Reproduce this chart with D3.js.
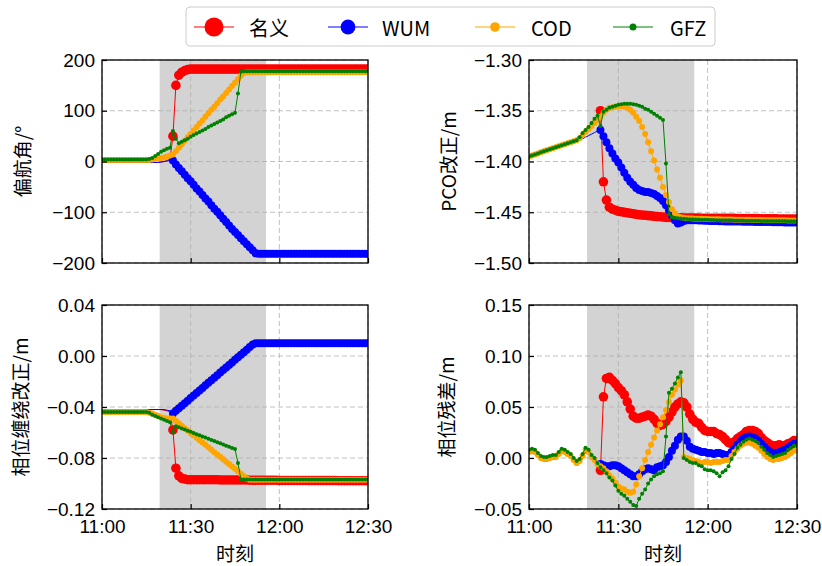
<!DOCTYPE html>
<html lang="zh">
<head>
<meta charset="UTF-8">
<title>偏航角 / PCO / 相位缠绕 / 相位残差</title>
<script src="https://d3js.org/d3.v7.min.js"></script>
<style>
  body { margin: 0; background: #fff; }
  svg { font-family: "Noto Sans CJK SC", "Noto Sans", sans-serif; }
  .grid line { stroke: #b0b0b0; stroke-width: 0.8; stroke-dasharray: 5,3; }
  .axis text { font-size: 19px; fill: #000; }
  .axis line { stroke: #000; stroke-width: 1.2; }
  .frame { fill: none; stroke: #000; stroke-width: 1.3; }
  .label { font-size: 19px; fill: #000; }
</style>
</head>
<body>
<svg id="chart" width="822" height="566"></svg>
<script>
// epochs: one per minute from 11:00 to 12:30
const minutes = d3.range(0, 91);
const timeTicks = [0, 30, 60, 90];
const timeLabels = ["11:00", "11:30", "12:00", "12:30"];
const shadeSpan = [19.5, 55.5];

const seriesNames = ["名义", "WUM", "COD", "GFZ"];

// 偏航角 (deg)
const yawTicks = [-200, -100, 0, 100, 200];
const yawRed = [
  -2,-2,-2,-2,-2,-2,-2,-2,-2,-2,
  -2,-2,-2,-2,-2,-2,-2,-2,-2,-2,
  -1,0,2,5,50,150,170,176,179,181,
  182,182,182,182,182,182,182,182,182,182,
  182,182,182,182,182,182,182,182,182,182,
  182,182,182,182,182,182,182,182,182,182,
  182,182,182,182,182,182,182,182,182,182,
  182,182,182,182,182,182,182,182,182,182,
  182,182,182,182,182,182,182,182,182,182,
  182];
const yawBlue = [
  -2,-2,-2,-2,-2,-2,-2,-2,-2,-2,
  -2,-2,-2,-2,-2,-2,-2,-2,-2,-2,
  -1,0,1,2,2,-6,-13,-19,-26,-33,
  -39,-46,-53,-59,-66,-73,-79,-86,-93,-99,
  -106,-113,-119,-126,-133,-139,-145,-151,-157,-163,
  -169,-175,-181,-182,-182,-182,-182,-182,-182,-182,
  -182,-182,-182,-182,-182,-182,-182,-182,-182,-182,
  -182,-182,-182,-182,-182,-182,-182,-182,-182,-182,
  -182,-182,-182,-182,-182,-182,-182,-182,-182,-182,
  -182];
const yawOrange = [
  3,3,3,3,3,3,3,3,3,3,
  3,3,3,3,3,3,3,4,5,6,
  7,8,10,12,14,20,27,34,41,48,
  54,61,68,75,81,88,95,102,108,115,
  122,128,135,142,149,155,162,169,175,176,
  176,176,176,176,176,176,176,176,176,176,
  176,176,176,176,176,176,176,176,176,176,
  176,176,176,176,176,176,176,176,176,176,
  176,176,176,176,176,176,176,176,176,176,
  176];
const yawGreen = [
  4,4,4,4,4,4,4,4,4,4,
  4,4,4,4,4,4,5,7,11,15,
  19,22,25,27,60,45,36,39,42,45,
  49,52,55,58,61,64,68,71,74,77,
  80,83,87,90,93,96,134,177,178,178,
  178,178,178,178,178,178,178,178,178,178,
  178,178,178,178,178,178,178,178,178,178,
  178,178,178,178,178,178,178,178,178,178,
  178,178,178,178,178,178,178,178,178,178,
  178];

// PCO改正 (m)
const pcoTicks = [-1.50, -1.45, -1.40, -1.35, -1.30];
const pcoRed = [
  -1.3935,-1.3925,-1.3915,-1.3905,-1.3895,-1.3885,-1.3875,-1.3865,-1.3855,-1.3845,
  -1.3835,-1.3825,-1.3815,-1.3805,-1.3795,-1.3785,-1.3775,-1.3755,-1.3735,-1.3715,
  -1.369,-1.366,-1.362,-1.357,-1.350,-1.420,-1.438,-1.445,-1.447,-1.448,
  -1.449,-1.4495,-1.450,-1.4505,-1.451,-1.4515,-1.452,-1.4525,-1.4527,-1.453,
  -1.4533,-1.4536,-1.454,-1.4542,-1.4544,-1.4547,-1.455,-1.4551,-1.4552,-1.4553,
  -1.4554,-1.4555,-1.4556,-1.4556,-1.4557,-1.4557,-1.4558,-1.4558,-1.4559,-1.4559,
  -1.456,-1.456,-1.456,-1.456,-1.456,-1.456,-1.456,-1.456,-1.456,-1.456,
  -1.4561,-1.4561,-1.4562,-1.4562,-1.4562,-1.4563,-1.4563,-1.4563,-1.4564,-1.4564,
  -1.4564,-1.4565,-1.4565,-1.4565,-1.4566,-1.4566,-1.4566,-1.4567,-1.4567,-1.4567,
  -1.4568];
const pcoBlue = [
  -1.3965,-1.3955,-1.3945,-1.3935,-1.3925,-1.3915,-1.3905,-1.3895,-1.3885,-1.3875,
  -1.3865,-1.3855,-1.3845,-1.3835,-1.3825,-1.3815,-1.3805,-1.379,-1.3775,-1.376,
  -1.3745,-1.373,-1.3715,-1.370,-1.369,-1.375,-1.381,-1.387,-1.392,-1.397,
  -1.401,-1.406,-1.411,-1.416,-1.420,-1.423,-1.426,-1.428,-1.429,-1.430,
  -1.430,-1.431,-1.432,-1.434,-1.436,-1.439,-1.443,-1.448,-1.453,-1.458,
  -1.461,-1.460,-1.4585,-1.458,-1.458,-1.458,-1.458,-1.4581,-1.4582,-1.4583,
  -1.4584,-1.4585,-1.4586,-1.4587,-1.4588,-1.4589,-1.459,-1.459,-1.4591,-1.4591,
  -1.4592,-1.4592,-1.4593,-1.4593,-1.4594,-1.4594,-1.4595,-1.4595,-1.4596,-1.4596,
  -1.4597,-1.4597,-1.4598,-1.4598,-1.4599,-1.4599,-1.460,-1.460,-1.460,-1.4601,
  -1.4601];
const pcoOrange = [
  -1.395,-1.394,-1.393,-1.392,-1.391,-1.390,-1.389,-1.388,-1.387,-1.386,
  -1.385,-1.384,-1.383,-1.382,-1.381,-1.380,-1.379,-1.377,-1.374,-1.371,
  -1.368,-1.365,-1.362,-1.359,-1.356,-1.352,-1.349,-1.347,-1.3465,-1.346,
  -1.3455,-1.3455,-1.346,-1.347,-1.349,-1.352,-1.356,-1.360,-1.366,-1.373,
  -1.381,-1.390,-1.399,-1.408,-1.416,-1.425,-1.433,-1.440,-1.447,-1.451,
  -1.454,-1.455,-1.4555,-1.456,-1.456,-1.4562,-1.4563,-1.4564,-1.4565,-1.4566,
  -1.4567,-1.4568,-1.4569,-1.457,-1.457,-1.4571,-1.4571,-1.4572,-1.4572,-1.4573,
  -1.4573,-1.4574,-1.4574,-1.4575,-1.4575,-1.4576,-1.4576,-1.4577,-1.4577,-1.4578,
  -1.4578,-1.4578,-1.4579,-1.4579,-1.458,-1.458,-1.458,-1.4581,-1.4581,-1.4581,
  -1.4582];
const pcoGreen = [
  -1.395,-1.394,-1.393,-1.392,-1.391,-1.390,-1.389,-1.388,-1.387,-1.386,
  -1.385,-1.384,-1.383,-1.382,-1.381,-1.380,-1.379,-1.376,-1.372,-1.369,
  -1.366,-1.362,-1.358,-1.355,-1.365,-1.351,-1.349,-1.347,-1.346,-1.345,
  -1.344,-1.3435,-1.343,-1.343,-1.343,-1.3435,-1.344,-1.345,-1.346,-1.348,
  -1.349,-1.351,-1.353,-1.355,-1.357,-1.359,-1.402,-1.452,-1.455,-1.4555,
  -1.456,-1.4562,-1.4564,-1.4566,-1.4568,-1.457,-1.4571,-1.4572,-1.4573,-1.4574,
  -1.4575,-1.4576,-1.4577,-1.4578,-1.4578,-1.4579,-1.4579,-1.458,-1.458,-1.4581,
  -1.4581,-1.4582,-1.4582,-1.4583,-1.4583,-1.4584,-1.4584,-1.4584,-1.4585,-1.4585,
  -1.4585,-1.4586,-1.4586,-1.4586,-1.4587,-1.4587,-1.4587,-1.4588,-1.4588,-1.4588,
  -1.4589];

// 相位缠绕改正 (m)
const windTicks = [-0.12, -0.08, -0.04, 0.00, 0.04];
const windRed = [
  -0.042,-0.042,-0.042,-0.042,-0.042,-0.042,-0.042,-0.042,-0.042,-0.042,
  -0.042,-0.042,-0.042,-0.042,-0.042,-0.042,-0.042,-0.042,-0.042,-0.042,
  -0.042,-0.0425,-0.043,-0.044,-0.058,-0.088,-0.094,-0.096,-0.0965,-0.097,
  -0.097,-0.097,-0.097,-0.097,-0.097,-0.097,-0.097,-0.097,-0.097,-0.097,
  -0.0972,-0.0972,-0.0972,-0.0972,-0.0972,-0.0972,-0.0972,-0.0972,-0.0972,-0.0972,
  -0.0974,-0.0974,-0.0974,-0.0974,-0.0974,-0.0974,-0.0974,-0.0974,-0.0974,-0.0974,
  -0.0976,-0.0976,-0.0976,-0.0976,-0.0976,-0.0976,-0.0976,-0.0976,-0.0976,-0.0976,
  -0.0977,-0.0977,-0.0977,-0.0977,-0.0977,-0.0977,-0.0977,-0.0977,-0.0977,-0.0977,
  -0.0978,-0.0978,-0.0978,-0.0978,-0.0978,-0.0978,-0.0978,-0.0978,-0.0978,-0.0978,
  -0.0978];
const windBlue = [
  -0.042,-0.042,-0.042,-0.042,-0.042,-0.042,-0.042,-0.042,-0.042,-0.042,
  -0.042,-0.042,-0.042,-0.042,-0.042,-0.042,-0.042,-0.042,-0.042,-0.042,
  -0.042,-0.042,-0.0425,-0.043,-0.045,-0.043,-0.041,-0.039,-0.037,-0.035,
  -0.033,-0.031,-0.029,-0.027,-0.025,-0.023,-0.021,-0.019,-0.017,-0.015,
  -0.013,-0.011,-0.009,-0.007,-0.005,-0.003,-0.001,0.001,0.003,0.005,
  0.007,0.009,0.010,0.010,0.010,0.010,0.010,0.010,0.010,0.010,
  0.010,0.010,0.010,0.010,0.010,0.010,0.010,0.010,0.010,0.010,
  0.010,0.010,0.010,0.010,0.010,0.010,0.010,0.010,0.010,0.010,
  0.010,0.010,0.010,0.010,0.010,0.010,0.010,0.010,0.010,0.010,
  0.010];
const windOrange = [
  -0.044,-0.044,-0.044,-0.044,-0.044,-0.044,-0.044,-0.044,-0.044,-0.044,
  -0.044,-0.044,-0.044,-0.044,-0.044,-0.044,-0.0445,-0.045,-0.046,-0.047,
  -0.048,-0.0485,-0.049,-0.049,-0.049,-0.0509,-0.0528,-0.0547,-0.0566,-0.0584,
  -0.0603,-0.0622,-0.0641,-0.066,-0.0678,-0.0697,-0.0716,-0.0735,-0.0754,-0.0772,
  -0.0791,-0.081,-0.0829,-0.0848,-0.0866,-0.0885,-0.0904,-0.0923,-0.0942,-0.096,
  -0.0971,-0.0971,-0.0971,-0.0971,-0.0971,-0.0971,-0.0971,-0.0971,-0.0971,-0.0971,
  -0.0971,-0.0971,-0.0971,-0.0971,-0.0971,-0.0971,-0.0971,-0.0971,-0.0971,-0.0971,
  -0.0971,-0.0971,-0.0971,-0.0971,-0.0971,-0.0971,-0.0971,-0.0971,-0.0971,-0.0971,
  -0.0971,-0.0971,-0.0971,-0.0971,-0.0971,-0.0971,-0.0971,-0.0971,-0.0971,-0.0971,
  -0.0971];
const windGreen = [
  -0.044,-0.044,-0.044,-0.044,-0.044,-0.044,-0.044,-0.044,-0.044,-0.044,
  -0.044,-0.044,-0.044,-0.044,-0.044,-0.044,-0.0445,-0.046,-0.047,-0.048,
  -0.049,-0.050,-0.051,-0.052,-0.060,-0.055,-0.0559,-0.0568,-0.0577,-0.0586,
  -0.0595,-0.0604,-0.0613,-0.0622,-0.0631,-0.064,-0.0649,-0.0658,-0.0667,-0.0676,
  -0.0685,-0.0694,-0.0703,-0.0712,-0.0721,-0.073,-0.084,-0.0968,-0.0968,-0.0968,
  -0.0968,-0.0968,-0.0968,-0.0968,-0.0968,-0.0968,-0.0968,-0.0968,-0.0968,-0.0968,
  -0.0968,-0.0968,-0.0968,-0.0968,-0.0968,-0.0968,-0.0968,-0.0968,-0.0968,-0.0968,
  -0.0968,-0.0968,-0.0968,-0.0968,-0.0968,-0.0968,-0.0968,-0.0968,-0.0968,-0.0968,
  -0.0968,-0.0968,-0.0968,-0.0968,-0.0968,-0.0968,-0.0968,-0.0968,-0.0968,-0.0968,
  -0.0968];

// 相位残差 (m)
const resTicks = [-0.05, 0.00, 0.05, 0.10, 0.15];
const resRed = [
  0.004,0.005,0.004,0.001,-0.002,-0.003,-0.003,-0.002,-0.001,-0.001,
  0.002,0.005,0.004,0.002,0.000,-0.004,-0.007,-0.005,0.000,0.006,
  0.004,-0.001,-0.004,-0.009,-0.012,0.060,0.078,0.079,0.076,0.073,
  0.069,0.066,0.062,0.055,0.048,0.041,0.039,0.039,0.040,0.041,
  0.042,0.041,0.038,0.034,0.032,0.033,0.036,0.040,0.045,0.050,
  0.053,0.055,0.054,0.050,0.043,0.038,0.035,0.034,0.030,0.027,
  0.026,0.026,0.026,0.024,0.023,0.021,0.018,0.015,0.014,0.016,
  0.019,0.021,0.023,0.026,0.027,0.027,0.026,0.024,0.020,0.017,
  0.015,0.013,0.012,0.012,0.013,0.012,0.012,0.014,0.015,0.017,
  0.016];
const resBlue = [
  0.004,0.005,0.004,0.001,-0.002,-0.003,-0.003,-0.002,-0.001,-0.001,
  0.002,0.005,0.004,0.002,0.000,-0.004,-0.007,-0.005,0.000,0.006,
  0.004,-0.001,-0.004,-0.008,-0.006,-0.007,-0.008,-0.008,-0.007,-0.007,
  -0.008,-0.010,-0.012,-0.014,-0.016,-0.018,-0.018,-0.016,-0.013,-0.011,
  -0.010,-0.011,-0.012,-0.009,-0.008,-0.007,-0.004,0.001,0.007,0.012,
  0.018,0.021,0.021,0.017,0.011,0.009,0.008,0.007,0.006,0.006,
  0.005,0.005,0.004,0.005,0.005,0.004,0.003,0.003,0.006,0.009,
  0.013,0.016,0.019,0.020,0.021,0.020,0.019,0.017,0.014,0.011,
  0.008,0.006,0.005,0.005,0.006,0.007,0.008,0.010,0.012,0.014,
  0.014];
const resOrange = [
  0.006,0.007,0.006,0.003,0.000,-0.001,-0.001,0.000,0.001,0.001,
  0.004,0.007,0.006,0.004,0.002,-0.002,-0.005,-0.003,0.002,0.008,
  0.006,0.001,-0.002,-0.006,-0.008,-0.010,-0.013,-0.017,-0.020,-0.024,
  -0.028,-0.030,-0.031,-0.033,-0.034,-0.033,-0.026,-0.018,-0.010,-0.002,
  0.006,0.013,0.020,0.027,0.033,0.040,0.047,0.055,0.062,0.067,
  0.072,0.076,0.001,0.000,-0.001,-0.002,-0.003,-0.004,-0.005,-0.004,
  -0.004,-0.005,-0.004,-0.004,-0.004,-0.003,-0.002,-0.002,0.002,0.006,
  0.009,0.012,0.014,0.015,0.015,0.014,0.012,0.010,0.007,0.004,
  0.001,-0.001,-0.002,-0.001,-0.001,0.000,0.001,0.003,0.005,0.007,
  0.008];
const resGreen = [
  0.008,0.009,0.008,0.005,0.002,0.001,0.001,0.002,0.003,0.003,
  0.006,0.009,0.008,0.006,0.004,0.000,-0.003,-0.001,0.004,0.010,
  0.008,0.003,0.000,-0.005,-0.009,-0.012,-0.015,-0.019,-0.022,-0.027,
  -0.032,-0.035,-0.037,-0.040,-0.043,-0.046,-0.047,-0.040,-0.035,-0.031,
  -0.025,-0.021,-0.018,-0.016,-0.015,-0.013,0.021,0.064,0.068,0.073,
  0.079,0.084,0.000,-0.002,-0.004,-0.005,-0.005,-0.007,-0.008,-0.011,
  -0.012,-0.012,-0.013,-0.015,-0.018,-0.014,-0.012,-0.008,-0.001,0.004,
  0.010,0.013,0.016,0.018,0.019,0.018,0.017,0.015,0.011,0.008,
  0.005,0.003,0.001,0.002,0.003,0.004,0.005,0.008,0.010,0.012,
  0.012];

// styles
const seriesStyle = [
  { color: "#ff0000", r: 4.8, markFrom: 24, legendR: 9.5 },
  { color: "#0000ff", r: 4.0, markFrom: 24, legendR: 7.4 },
  { color: "#ffa500", r: 3.0, markFrom: 0, legendR: 4.8 },
  { color: "#008000", r: 2.0, markFrom: 0, legendR: 3.5 }
];

const panels = [
  { id: "yaw", left: 102, top: 60, w: 266, h: 203, domain: [-200, 200], ticks: yawTicks, fmt: "d",
    label: "偏航角/°", labelX: 21, showTime: false, data: [yawRed, yawBlue, yawOrange, yawGreen] },
  { id: "pco", left: 529, top: 60, w: 268, h: 203, domain: [-1.50, -1.30], ticks: pcoTicks, fmt: ".2f",
    label: "PCO改正/m", labelX: 447, showTime: false, data: [pcoRed, pcoBlue, pcoOrange, pcoGreen] },
  { id: "wind", left: 102, top: 305, w: 266, h: 204, domain: [-0.12, 0.04], ticks: windTicks, fmt: ".2f",
    label: "相位缠绕改正/m", labelX: 19, showTime: true, data: [windRed, windBlue, windOrange, windGreen] },
  { id: "res", left: 529, top: 305, w: 268, h: 204, domain: [-0.05, 0.15], ticks: resTicks, fmt: ".2f",
    label: "相位残差/m", labelX: 445, showTime: true, data: [resRed, resBlue, resOrange, resGreen] }
];

const svg = d3.select("#chart");

panels.forEach(p => {
  const g = svg.append("g").attr("transform", `translate(${p.left},${p.top})`);
  const x = d3.scaleLinear().domain([0, 90]).range([0, p.w]);
  const y = d3.scaleLinear().domain(p.domain).range([p.h, 0]);

  g.append("clipPath").attr("id", "clip-" + p.id)
    .append("rect").attr("width", p.w).attr("height", p.h);

  // eclipse / noon-turn period
  g.append("rect")
    .attr("x", x(shadeSpan[0]))
    .attr("width", x(shadeSpan[1]) - x(shadeSpan[0]))
    .attr("height", p.h)
    .attr("fill", "#d3d3d3");

  const grid = g.append("g").attr("class", "grid");
  grid.selectAll("line.gx").data(timeTicks).join("line").attr("class", "gx")
    .attr("x1", d => x(d)).attr("x2", d => x(d)).attr("y1", 0).attr("y2", p.h);
  grid.selectAll("line.gy").data(p.ticks).join("line").attr("class", "gy")
    .attr("x1", 0).attr("x2", p.w).attr("y1", d => y(d)).attr("y2", d => y(d));

  const plot = g.append("g").attr("clip-path", `url(#clip-${p.id})`);
  const line = d3.line().x((v, i) => x(minutes[i])).y(v => y(v));

  p.data.forEach((vals, si) => {
    const s = seriesStyle[si];
    plot.append("path").datum(vals)
      .attr("fill", "none")
      .attr("stroke", s.color)
      .attr("stroke-width", 1)
      .attr("d", line);
    const pts = vals.map((v, i) => [minutes[i], v]).filter(d => d[0] >= s.markFrom);
    plot.append("g").selectAll("circle").data(pts).join("circle")
      .attr("cx", d => x(d[0]))
      .attr("cy", d => y(d[1]))
      .attr("r", s.r)
      .attr("fill", s.color);
  });

  g.append("rect").attr("class", "frame").attr("width", p.w).attr("height", p.h);

  g.append("g").attr("class", "axis")
    .call(d3.axisLeft(y).tickValues(p.ticks).tickSize(-5).tickPadding(7).tickFormat(d3.format(p.fmt)))
    .call(a => a.select(".domain").remove());

  g.append("g").attr("class", "axis")
    .attr("transform", `translate(0,${p.h})`)
    .call(d3.axisBottom(x).tickValues(timeTicks).tickSize(-5).tickPadding(11)
      .tickFormat((d, i) => p.showTime ? timeLabels[i] : ""))
    .call(a => a.select(".domain").remove());

  svg.append("text").attr("class", "label")
    .attr("transform", `translate(${p.labelX},${p.top + p.h / 2}) rotate(-90)`)
    .attr("text-anchor", "middle")
    .attr("dominant-baseline", "central")
    .text(p.label);

  if (p.showTime) {
    svg.append("text").attr("class", "label")
      .attr("x", p.left + p.w / 2).attr("y", 561)
      .attr("text-anchor", "middle")
      .text("时刻");
  }
});

// legend
const legend = svg.append("g");
legend.append("rect")
  .attr("x", 186).attr("y", 7).attr("width", 529).attr("height", 39).attr("rx", 4)
  .attr("fill", "#fff").attr("fill-opacity", 0.8)
  .attr("stroke", "#cccccc").attr("stroke-width", 1);
const legendX = [214, 348, 495, 633];
const legendTextX = [249, 382, 531, 670];
seriesNames.forEach((name, i) => {
  const s = seriesStyle[i];
  legend.append("line")
    .attr("x1", legendX[i] - 20).attr("x2", legendX[i] + 20)
    .attr("y1", 27).attr("y2", 27)
    .attr("stroke", s.color).attr("stroke-width", 1);
  legend.append("circle").attr("cx", legendX[i]).attr("cy", 27).attr("r", s.legendR).attr("fill", s.color);
  legend.append("text").attr("class", "label")
    .attr("x", legendTextX[i]).attr("y", 27)
    .attr("dominant-baseline", "central")
    .style("font-size", "20px")
    .text(name);
});
</script>
</body>
</html>
